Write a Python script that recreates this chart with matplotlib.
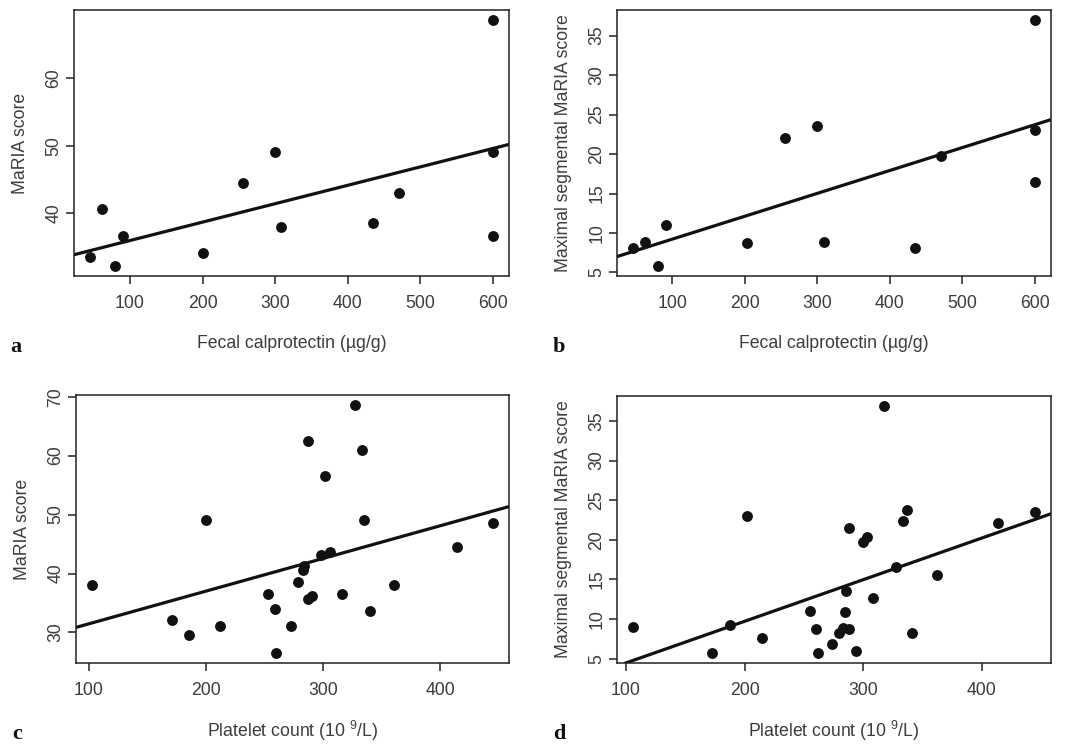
import matplotlib
matplotlib.use("Agg")
import matplotlib.pyplot as plt
import numpy as np

plt.rcParams['font.family'] = ['Liberation Sans', 'DejaVu Sans']
plt.rcParams['mathtext.fontset'] = 'custom'
plt.rcParams['mathtext.rm'] = 'Liberation Sans'
plt.rcParams['mathtext.it'] = 'Liberation Sans'

## data
# a: fecal calprotectin vs MaRIA score
calpro_a = [45, 61, 79, 91, 200, 256, 300, 308, 435, 470, 600, 600, 600]
maria_a = [33.5, 40.6, 32.2, 36.6, 34.2, 44.5, 49.1, 38.0, 38.6, 43.0, 68.6, 49.1, 36.6]
fit_a = (33.27, 0.0272)  # intercept, slope

# b: fecal calprotectin vs maximal segmental MaRIA score
calpro_b = [46, 62, 80, 92, 203, 256, 300, 309, 435, 470, 600, 600, 600]
segm_b = [8.1, 8.9, 5.8, 11.0, 8.7, 22.0, 23.5, 8.9, 8.1, 19.7, 37.0, 23.0, 16.5]
fit_b = (6.32, 0.0290)

# c: platelet count vs MaRIA score
plt_c = [103, 171, 186, 200, 212, 253, 259, 260, 273, 279, 283, 284, 287, 291, 287,
         298, 302, 306, 316, 327, 333, 335, 340, 361, 414, 445]
maria_c = [38.1, 32.1, 29.5, 49.0, 31.1, 36.6, 34.0, 26.5, 31.1, 38.6, 40.6, 41.2, 35.6, 36.2, 62.5,
           43.1, 56.5, 43.6, 36.6, 68.6, 61.0, 49.0, 33.6, 38.1, 44.5, 48.5]
fit_c = (25.9, 0.0555)

# d: platelet count vs maximal segmental MaRIA score
plt_d = [106, 173, 188, 202, 215, 255, 260, 262, 274, 280, 283, 288, 285, 286, 288,
         294, 300, 303, 308, 318, 328, 334, 337, 341, 362, 414, 445]
segm_d = [9.0, 5.7, 9.3, 23.0, 7.6, 11.0, 8.8, 5.7, 6.9, 8.2, 8.9, 8.7, 10.9, 13.6, 21.5,
          6.0, 19.7, 20.3, 12.7, 36.9, 16.6, 22.4, 23.7, 8.2, 15.5, 22.1, 23.5]
fit_d = (-0.79, 0.0525)

xticks_calpro = [100, 200, 300, 400, 500, 600]
xticks_plt = [100, 200, 300, 400]
yticks_maria_top = [40, 50, 60]
yticks_maria_bot = [30, 40, 50, 60, 70]
yticks_segm = [5, 10, 15, 20, 25, 30, 35]

xlab_calpro = 'Fecal calprotectin (µg/g)'
xlab_plt = 'Platelet count (10 $^{9}$/L)'
ylab_maria = 'MaRIA score'
ylab_segm = 'Maximal segmental MaRIA score'

W, H = 1066, 744
txt_col = '#3c3c3c'

fig = plt.figure(figsize=(W / 100, H / 100), dpi=100)

panels = [
    ('a', [74, 10, 435, 266], calpro_a, maria_a, fit_a, xticks_calpro, yticks_maria_top, xlab_calpro, ylab_maria),
    ('b', [617, 10, 434, 266], calpro_b, segm_b, fit_b, xticks_calpro, yticks_segm, xlab_calpro, ylab_segm),
    ('c', [76, 395, 433, 268], plt_c, maria_c, fit_c, xticks_plt, yticks_maria_bot, xlab_plt, ylab_maria),
    ('d', [617, 396, 434, 267], plt_d, segm_d, fit_d, xticks_plt, yticks_segm, xlab_plt, ylab_segm),
]


def r_range(v):
    # R style axis range: data range padded by 4% on each side
    lo, hi = min(v), max(v)
    d = (hi - lo) * 0.04
    return lo - d, hi + d


for letter, box, xs, ys, fit, xt, yt, xlab, ylab in panels:
    left, top, w, h = box
    ax = fig.add_axes([left / W, 1 - (top + h) / H, w / W, h / H])
    ax.plot(xs, ys, 'o', color='#111111', ms=6.8, mec='#111111')
    ax.axline((0, fit[0]), slope=fit[1], color='#111111', lw=2.3)
    ax.set_xlim(*r_range(xs))
    ax.set_ylim(*r_range(ys))
    ax.set_xticks(xt)
    ax.set_yticks(yt)
    for s in ax.spines.values():
        s.set_linewidth(1.1)
        s.set_color('#222222')
    ax.tick_params(length=5.5, width=1.1, color='#222222', labelcolor=txt_col, labelsize=12.7)
    ax.tick_params(axis='x', pad=8.5)
    ax.tick_params(axis='y', pad=3, labelrotation=90)
    plt.setp(ax.get_yticklabels(), va='center')
    ax.set_xlabel(xlab, fontsize=12.7, color=txt_col, va='center')
    ax.xaxis.set_label_coords(0.5, -68 / h)
    ax.set_ylabel(ylab, fontsize=12.7, color=txt_col, va='center')
    ax.yaxis.set_label_coords(-53 / w, 0.5)
    # panel letter, bottom left
    fig.text((left - 64) / W, 1 - (top + h + 76) / H, letter, family='Liberation Serif',
             fontweight='bold', fontsize=16, color='#111111', va='baseline')

plt.savefig('out.png', dpi=100)
